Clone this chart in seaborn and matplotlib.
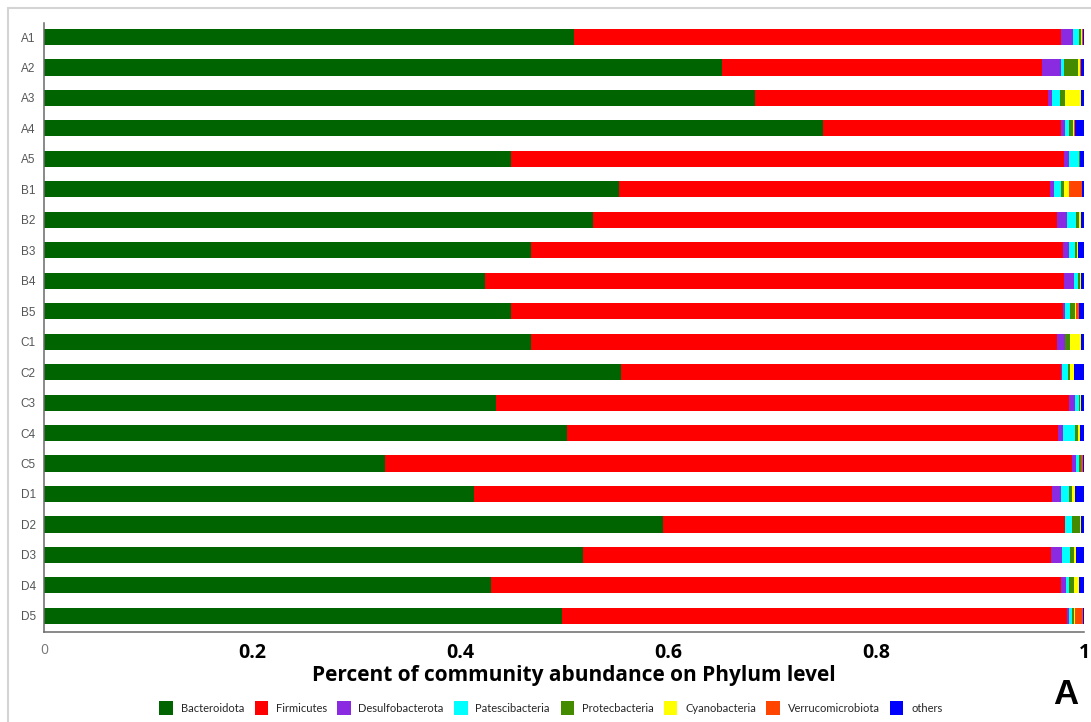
import matplotlib
matplotlib.use("Agg")
import matplotlib.pyplot as plt
import pandas as pd
import seaborn as sns
from matplotlib.patches import Patch
from matplotlib.lines import Line2D

# Relative abundance of the top phyla per sample
samples = ["A1", "A2", "A3", "A4", "A5", "B1", "B2", "B3", "B4", "B5",
           "C1", "C2", "C3", "C4", "C5", "D1", "D2", "D3", "D4", "D5"]
phyla = ["Bacteroidota", "Firmicutes", "Desulfobacterota", "Patescibacteria",
         "Protecbacteria", "Cyanobacteria", "Verrucomicrobiota", "others"]
phylum_colors = ["#006400", "#FF0000", "#8A2BE2", "#00FFFF",
                 "#458B00", "#FFFF00", "#FF4500", "#0000FF"]

bacteroidota = [0.510, 0.652, 0.684, 0.749, 0.449, 0.553, 0.528, 0.468, 0.424, 0.449,
                0.468, 0.555, 0.435, 0.503, 0.328, 0.413, 0.595, 0.518, 0.430, 0.498]
firmicutes = [0.468, 0.308, 0.281, 0.229, 0.532, 0.414, 0.446, 0.512, 0.557, 0.531,
              0.506, 0.423, 0.551, 0.472, 0.660, 0.556, 0.387, 0.450, 0.548, 0.486]
desulfobacterota = [0.011, 0.018, 0.004, 0.004, 0.005, 0.004, 0.010, 0.006, 0.009, 0.002,
                    0.008, 0.001, 0.005, 0.005, 0.004, 0.009, 0.000, 0.011, 0.005, 0.002]
patescibacteria = [0.006, 0.003, 0.008, 0.004, 0.009, 0.007, 0.008, 0.005, 0.004, 0.005,
                   0.000, 0.006, 0.004, 0.011, 0.003, 0.008, 0.006, 0.008, 0.003, 0.002]
protecbacteria = [0.002, 0.013, 0.005, 0.003, 0.001, 0.003, 0.003, 0.002, 0.002, 0.004,
                  0.005, 0.002, 0.001, 0.003, 0.002, 0.002, 0.008, 0.003, 0.004, 0.002]
cyanobacteria = [0.001, 0.002, 0.015, 0.001, 0.000, 0.005, 0.002, 0.001, 0.001, 0.001,
                 0.010, 0.003, 0.001, 0.002, 0.000, 0.003, 0.001, 0.002, 0.005, 0.001]
verrucomicrobiota = [0.001, 0.001, 0.000, 0.001, 0.000, 0.012, 0.000, 0.000, 0.000, 0.003,
                     0.000, 0.000, 0.000, 0.000, 0.002, 0.000, 0.000, 0.000, 0.000, 0.008]
others = [0.001, 0.003, 0.003, 0.009, 0.004, 0.002, 0.003, 0.006, 0.003, 0.005,
          0.003, 0.010, 0.003, 0.004, 0.001, 0.009, 0.003, 0.008, 0.005, 0.001]

series = [bacteroidota, firmicutes, desulfobacterota, patescibacteria,
          protecbacteria, cyanobacteria, verrucomicrobiota, others]

# Long table with the running (stacked) end of every segment
rows = []
for i, s in enumerate(samples):
    running = 0.0
    for name, vals in zip(phyla, series):
        running += vals[i]
        rows.append({"sample": s, "phylum": name, "cum": running})
df = pd.DataFrame(rows)

sns.set_theme(style="white")
plt.rcParams["font.family"] = ["DejaVu Sans"]

fig = plt.figure(figsize=(10.91, 7.22), dpi=100)
ax = fig.add_axes([44 / 1091, 1 - 632 / 722, 1040 / 1091, (632 - 23) / 722])

palette = dict(zip(phyla, phylum_colors))
# Longest cumulative segments first so each shorter one is painted over it
sns.barplot(data=df, x="cum", y="sample", hue="phylum", hue_order=phyla[::-1],
            order=samples, palette=palette, dodge=False, width=0.53,
            errorbar=None, legend=False, linewidth=0, edgecolor="none",
            orient="h", saturation=1, ax=ax)

ax.set_xlim(0, 1)
ax.set_ylim(19.53, -0.46)
ax.set_xlabel("")
ax.set_ylabel("")

axis_grey = "#6a6a6a"
for side in ["top", "right"]:
    ax.spines[side].set_visible(False)
for side in ["left", "bottom"]:
    ax.spines[side].set_color(axis_grey)
    ax.spines[side].set_linewidth(1.1)

ax.set_xticks([0, 0.2, 0.4, 0.6, 0.8, 1.0])
ax.set_xticklabels(["0", "0.2", "0.4", "0.6", "0.8", "1"])
ax.tick_params(axis="x", direction="out", length=5, width=1, color=axis_grey, pad=3)
for lbl in ax.get_xticklabels():
    lbl.set_fontfamily("Open Sans")
    if lbl.get_text() == "0":
        lbl.set_fontsize(10)
        lbl.set_color("#777777")
    else:
        lbl.set_fontsize(14)
        lbl.set_fontweight("bold")
        lbl.set_color("black")

ax.tick_params(axis="y", which="major", direction="out", length=4, width=1,
               color=axis_grey, pad=2)
ax.set_yticks([19.53, -0.46], minor=True)
ax.tick_params(axis="y", which="minor", direction="out", length=4, width=1,
               color=axis_grey)
for lbl in ax.get_yticklabels():
    lbl.set_fontfamily("Liberation Sans")
    lbl.set_fontsize(8.5)
    lbl.set_color("#555555")

fig.text(574 / 1091, 1 - 681 / 722, "Percent of community abundance on Phylum level",
         ha="center", va="baseline", fontsize=15, fontweight="bold",
         family="Open Sans", color="black")

handles = [Patch(facecolor=c, edgecolor="none") for c in phylum_colors]
fig.legend(handles, phyla, loc="center", bbox_to_anchor=(551 / 1091, 1 - 708 / 722),
           ncol=8, frameon=False, handlelength=1.2, handleheight=1.5,
           handletextpad=0.7, columnspacing=0.95,
           prop={"family": "Lato", "size": 8})

fig.text(1066 / 1091, 1 - 694 / 722, "A", ha="center", va="center",
         fontsize=25, fontweight="bold", family="Liberation Sans", color="black")

# Light outer frame around the panel
frame_col = "#d4d4d4"
fig.add_artist(Line2D([7.5 / 1091, 7.5 / 1091], [0, 1 - 8 / 722],
                      transform=fig.transFigure, color=frame_col, lw=1.5))
fig.add_artist(Line2D([7.5 / 1091, 1], [1 - 8 / 722, 1 - 8 / 722],
                      transform=fig.transFigure, color=frame_col, lw=1.5))

fig.savefig("out.png", dpi=100, facecolor="white")
